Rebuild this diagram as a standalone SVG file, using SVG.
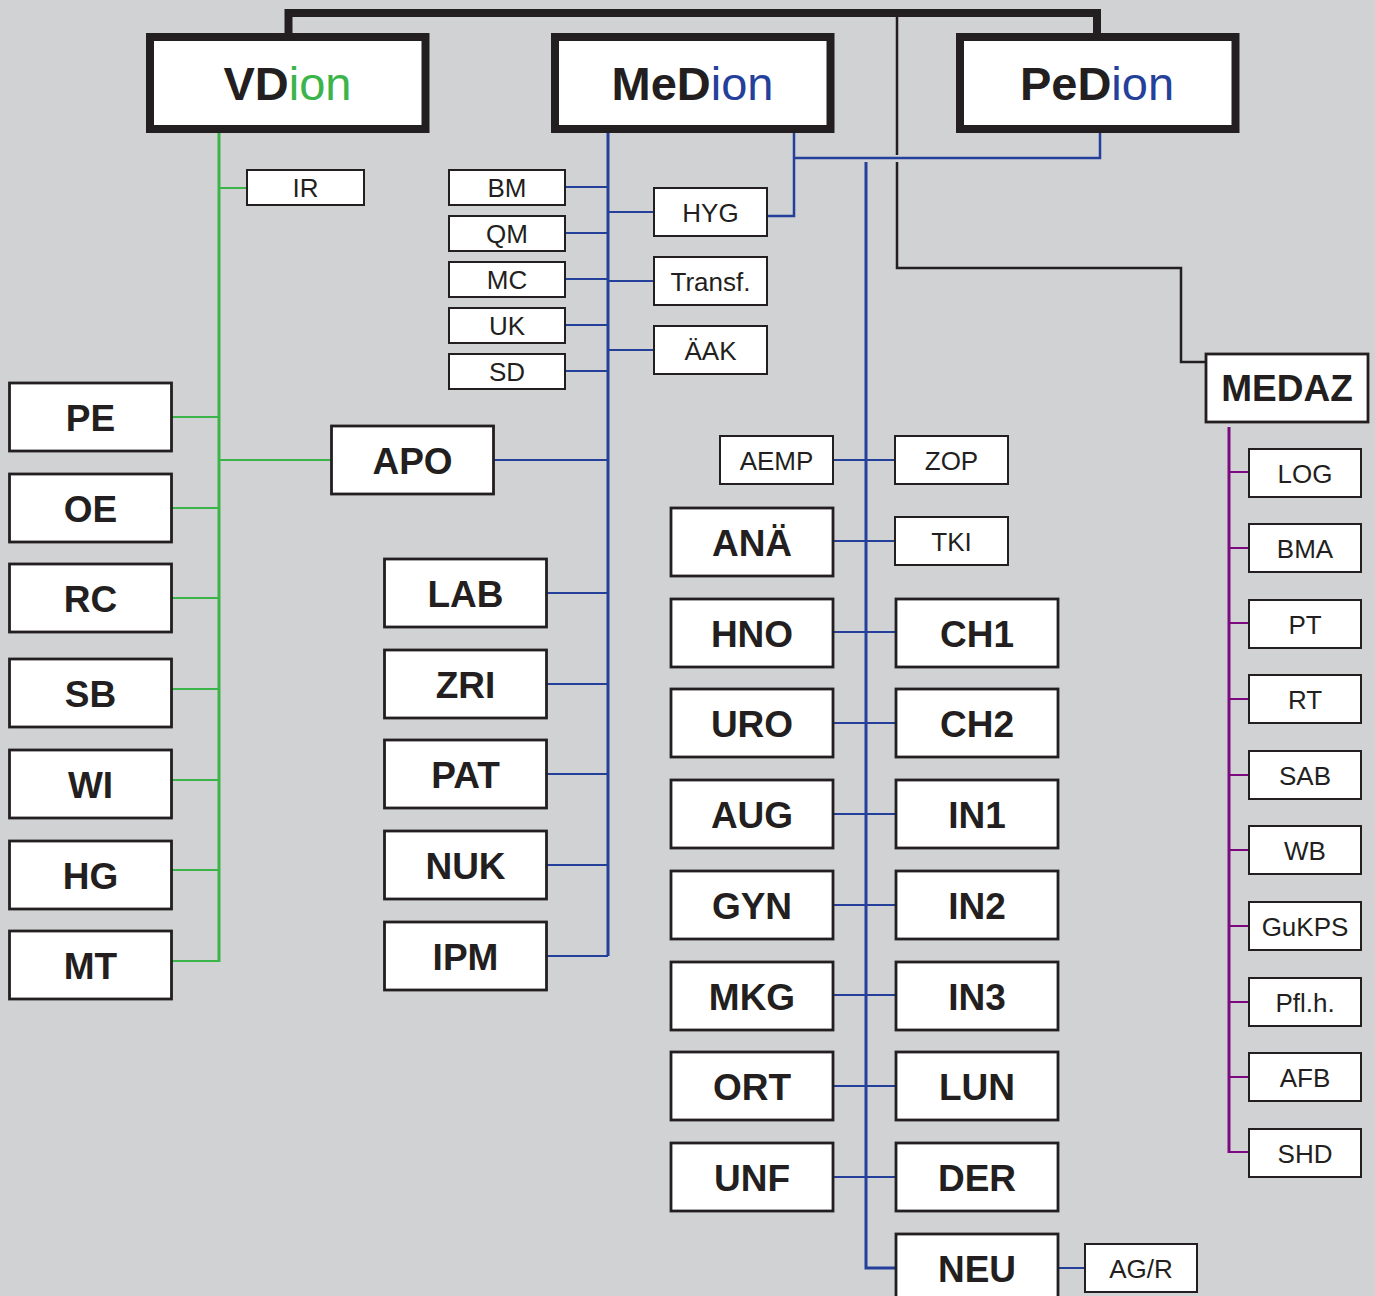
<svg xmlns="http://www.w3.org/2000/svg" width="1375" height="1296" viewBox="0 0 1375 1296">
<style>
.bg{fill:#d1d2d4}
.t{fill:#fff;stroke:#231f20;stroke-width:8}
.b{fill:#fff;stroke:#231f20;stroke-width:2.8}
.s{fill:#fff;stroke:#231f20;stroke-width:2}
text{font-family:"Liberation Sans",Arial,sans-serif;fill:#231f20;text-anchor:middle}
.tt{font-size:47px;font-weight:bold}
.bt{font-size:37px;font-weight:bold}
.st{font-size:26px}
.g{fill:#3bb44a;font-weight:normal}
.bl{fill:#24409a;font-weight:normal}
.cg{stroke:#3bb44a;fill:none}
.cb{stroke:#24409a;fill:none}
.cp{stroke:#7c0a7e;fill:none}
.ck{stroke:#231f20;fill:none}
</style>
<rect class="bg" x="0" y="0" width="1375" height="1296"/>
<g id="connectors">
<path class="ck" stroke-width="8" d="M288.5,34 V13 H1097 V34"/>
<path class="ck" stroke-width="2.5" d="M897,17 V155 M897,162 V268 H1181 V362 H1206"/>
<path class="cb" stroke-width="3" d="M608,133 V956 M866,162 V1268 H895"/>
<path class="cb" stroke-width="2.5" d="M794,133 V216 H768 M1100,133 V158 H794"/>
<path class="cb" stroke-width="2.2" d="M566,187 H608 M566,233 H608 M566,279 H608 M566,325 H608 M566,371 H608 M608,212 H653 M608,281 H653 M608,350 H653 M494,460 H608 M547,593 H608 M547,684 H608 M547,774 H608 M547,865 H608 M547,956 H608 M834,460 H894 M834,541 H894 M834,632 H895 M834,723 H895 M834,814 H895 M834,905 H895 M834,995 H895 M834,1086 H895 M834,1177 H895 M1059,1268 H1084"/>
<path class="cg" stroke-width="3" d="M219,133 V962"/>
<path class="cg" stroke-width="2.2" d="M219,188 H247 M172,417 H219 M172,508 H219 M172,598 H219 M172,689 H219 M172,780 H219 M172,870 H219 M172,961 H219 M219,460 H331"/>
<path class="cp" stroke-width="3" d="M1229,427 V1153"/>
<path class="cp" stroke-width="2.2" d="M1229,472 H1248 M1229,548 H1248 M1229,623 H1248 M1229,699 H1248 M1229,775 H1248 M1229,850 H1248 M1229,926 H1248 M1229,1002 H1248 M1229,1077 H1248 M1229,1152 H1248"/>
</g>
<g id="VDion"><rect class="t" x="150" y="37" width="275.5" height="92"/><text class="tt" x="287.5" y="100">VD<tspan class="g">ion</tspan></text></g>
<g id="MeDion"><rect class="t" x="555" y="37" width="275.5" height="92"/><text class="tt" x="692.5" y="100">MeD<tspan class="bl">ion</tspan></text></g>
<g id="PeDion"><rect class="t" x="960" y="37" width="275.5" height="92"/><text class="tt" x="1097" y="100">PeD<tspan class="bl">ion</tspan></text></g>
<g id="MEDAZ"><rect class="b" x="1206" y="354" width="162" height="68"/><text class="bt" x="1287" y="401">MEDAZ</text></g>
<g id="IR"><rect class="s" x="247" y="170" width="117" height="35"/><text class="st" x="305.5" y="197">IR</text></g>
<g id="BM"><rect class="s" x="449" y="170" width="116" height="35"/><text class="st" x="507" y="197">BM</text></g>
<g id="QM"><rect class="s" x="449" y="216" width="116" height="35"/><text class="st" x="507" y="243">QM</text></g>
<g id="MC"><rect class="s" x="449" y="262" width="116" height="35"/><text class="st" x="507" y="289">MC</text></g>
<g id="UK"><rect class="s" x="449" y="308" width="116" height="35"/><text class="st" x="507" y="335">UK</text></g>
<g id="SD"><rect class="s" x="449" y="354" width="116" height="35"/><text class="st" x="507" y="381">SD</text></g>
<g id="HYG"><rect class="s" x="654" y="188" width="113" height="48"/><text class="st" x="710.5" y="222">HYG</text></g>
<g id="Transf"><rect class="s" x="654" y="257" width="113" height="48"/><text class="st" x="710.5" y="291">Transf.</text></g>
<g id="AAK"><rect class="s" x="654" y="326" width="113" height="48"/><text class="st" x="710.5" y="360">ÄAK</text></g>
<g id="PE"><rect class="b" x="9.5" y="383" width="162" height="68"/><text class="bt" x="90.5" y="431">PE</text></g>
<g id="OE"><rect class="b" x="9.5" y="474" width="162" height="68"/><text class="bt" x="90.5" y="522">OE</text></g>
<g id="RC"><rect class="b" x="9.5" y="564" width="162" height="68"/><text class="bt" x="90.5" y="612">RC</text></g>
<g id="SB"><rect class="b" x="9.5" y="659" width="162" height="68"/><text class="bt" x="90.5" y="707">SB</text></g>
<g id="WI"><rect class="b" x="9.5" y="750" width="162" height="68"/><text class="bt" x="90.5" y="798">WI</text></g>
<g id="HG"><rect class="b" x="9.5" y="841" width="162" height="68"/><text class="bt" x="90.5" y="889">HG</text></g>
<g id="MT"><rect class="b" x="9.5" y="931" width="162" height="68"/><text class="bt" x="90.5" y="979">MT</text></g>
<g id="APO"><rect class="b" x="331.5" y="426" width="162" height="68"/><text class="bt" x="412.5" y="474">APO</text></g>
<g id="LAB"><rect class="b" x="384.5" y="559" width="162" height="68"/><text class="bt" x="465.5" y="607">LAB</text></g>
<g id="ZRI"><rect class="b" x="384.5" y="650" width="162" height="68"/><text class="bt" x="465.5" y="698">ZRI</text></g>
<g id="PAT"><rect class="b" x="384.5" y="740" width="162" height="68"/><text class="bt" x="465.5" y="788">PAT</text></g>
<g id="NUK"><rect class="b" x="384.5" y="831" width="162" height="68"/><text class="bt" x="465.5" y="879">NUK</text></g>
<g id="IPM"><rect class="b" x="384.5" y="922" width="162" height="68"/><text class="bt" x="465.5" y="970">IPM</text></g>
<g id="AEMP"><rect class="s" x="720" y="436" width="113" height="48"/><text class="st" x="776.5" y="470">AEMP</text></g>
<g id="ZOP"><rect class="s" x="895" y="436" width="113" height="48"/><text class="st" x="951.5" y="470">ZOP</text></g>
<g id="TKI"><rect class="s" x="895" y="517" width="113" height="48"/><text class="st" x="951.5" y="551">TKI</text></g>
<g id="ANA"><rect class="b" x="671" y="508" width="162" height="68"/><text class="bt" x="752" y="556">ANÄ</text></g>
<g id="HNO"><rect class="b" x="671" y="599" width="162" height="68"/><text class="bt" x="752" y="647">HNO</text></g>
<g id="URO"><rect class="b" x="671" y="689" width="162" height="68"/><text class="bt" x="752" y="737">URO</text></g>
<g id="AUG"><rect class="b" x="671" y="780" width="162" height="68"/><text class="bt" x="752" y="828">AUG</text></g>
<g id="GYN"><rect class="b" x="671" y="871" width="162" height="68"/><text class="bt" x="752" y="919">GYN</text></g>
<g id="MKG"><rect class="b" x="671" y="962" width="162" height="68"/><text class="bt" x="752" y="1010">MKG</text></g>
<g id="ORT"><rect class="b" x="671" y="1052" width="162" height="68"/><text class="bt" x="752" y="1100">ORT</text></g>
<g id="UNF"><rect class="b" x="671" y="1143" width="162" height="68"/><text class="bt" x="752" y="1191">UNF</text></g>
<g id="CH1"><rect class="b" x="896" y="599" width="162" height="68"/><text class="bt" x="977" y="647">CH1</text></g>
<g id="CH2"><rect class="b" x="896" y="689" width="162" height="68"/><text class="bt" x="977" y="737">CH2</text></g>
<g id="IN1"><rect class="b" x="896" y="780" width="162" height="68"/><text class="bt" x="977" y="828">IN1</text></g>
<g id="IN2"><rect class="b" x="896" y="871" width="162" height="68"/><text class="bt" x="977" y="919">IN2</text></g>
<g id="IN3"><rect class="b" x="896" y="962" width="162" height="68"/><text class="bt" x="977" y="1010">IN3</text></g>
<g id="LUN"><rect class="b" x="896" y="1052" width="162" height="68"/><text class="bt" x="977" y="1100">LUN</text></g>
<g id="DER"><rect class="b" x="896" y="1143" width="162" height="68"/><text class="bt" x="977" y="1191">DER</text></g>
<g id="NEU"><rect class="b" x="896" y="1234" width="162" height="68"/><text class="bt" x="977" y="1282">NEU</text></g>
<g id="AGR"><rect class="s" x="1085" y="1244" width="112" height="48"/><text class="st" x="1141" y="1278">AG/R</text></g>
<g id="LOG"><rect class="s" x="1249" y="449" width="112" height="48"/><text class="st" x="1305" y="483">LOG</text></g>
<g id="BMA"><rect class="s" x="1249" y="524" width="112" height="48"/><text class="st" x="1305" y="558">BMA</text></g>
<g id="PT"><rect class="s" x="1249" y="600" width="112" height="48"/><text class="st" x="1305" y="634">PT</text></g>
<g id="RT"><rect class="s" x="1249" y="675" width="112" height="48"/><text class="st" x="1305" y="709">RT</text></g>
<g id="SAB"><rect class="s" x="1249" y="751" width="112" height="48"/><text class="st" x="1305" y="785">SAB</text></g>
<g id="WB"><rect class="s" x="1249" y="826" width="112" height="48"/><text class="st" x="1305" y="860">WB</text></g>
<g id="GuKPS"><rect class="s" x="1249" y="902" width="112" height="48"/><text class="st" x="1305" y="936">GuKPS</text></g>
<g id="Pflh"><rect class="s" x="1249" y="978" width="112" height="48"/><text class="st" x="1305" y="1012">Pfl.h.</text></g>
<g id="AFB"><rect class="s" x="1249" y="1053" width="112" height="48"/><text class="st" x="1305" y="1087">AFB</text></g>
<g id="SHD"><rect class="s" x="1249" y="1129" width="112" height="48"/><text class="st" x="1305" y="1163">SHD</text></g>
</svg>
